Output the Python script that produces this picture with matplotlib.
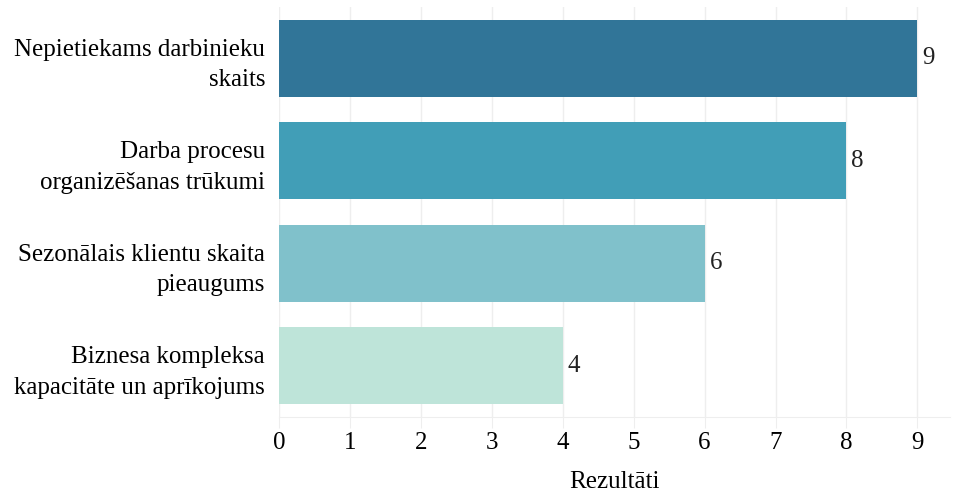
import matplotlib.pyplot as plt

plt.rcParams['font.family'] = ['Liberation Serif', 'DejaVu Serif']

categories = ['Nepietiekams darbinieku\nskaits',
              'Darba procesu\norganizēšanas trūkumi',
              'Sezonālais klientu skaita\npieaugums',
              'Biznesa kompleksa\nkapacitāte un aprīkojums']
values = [9, 8, 6, 4]
colors = ['#317598', '#419EB7', '#80C1CB', '#BEE4D9']

fig = plt.figure(figsize=(9.66, 4.93), dpi=100)
ax = fig.add_axes([279/966, 1 - 417/493, (950-279)/966, (417-7)/493])

pos = list(range(len(values)))
ax.barh(pos, values, height=0.75, color=colors, zorder=2)
for p, v in zip(pos, values):
    ax.text(v + 0.07, p, str(v), va='center', ha='left', fontsize=18, color='#222222')

ax.set_ylim(3.5, -0.5)
ax.set_xlim(0, 9.46)
ax.set_yticks(pos)
ax.set_yticklabels(categories, fontsize=18, linespacing=1.5)
ax.set_xticks(range(10))
ax.tick_params(axis='x', labelsize=18, length=8, color='#eeeeee', pad=3)
ax.tick_params(axis='y', length=0, pad=10)
ax.grid(axis='x', color='#eeeeee', linewidth=1, zorder=0)
for s in ['top', 'right', 'left']:
    ax.spines[s].set_visible(False)
ax.spines['bottom'].set_color('#eeeeee')
ax.set_xlabel('Rezultāti', fontsize=18, labelpad=12)

fig.savefig('out.png', dpi=100)
